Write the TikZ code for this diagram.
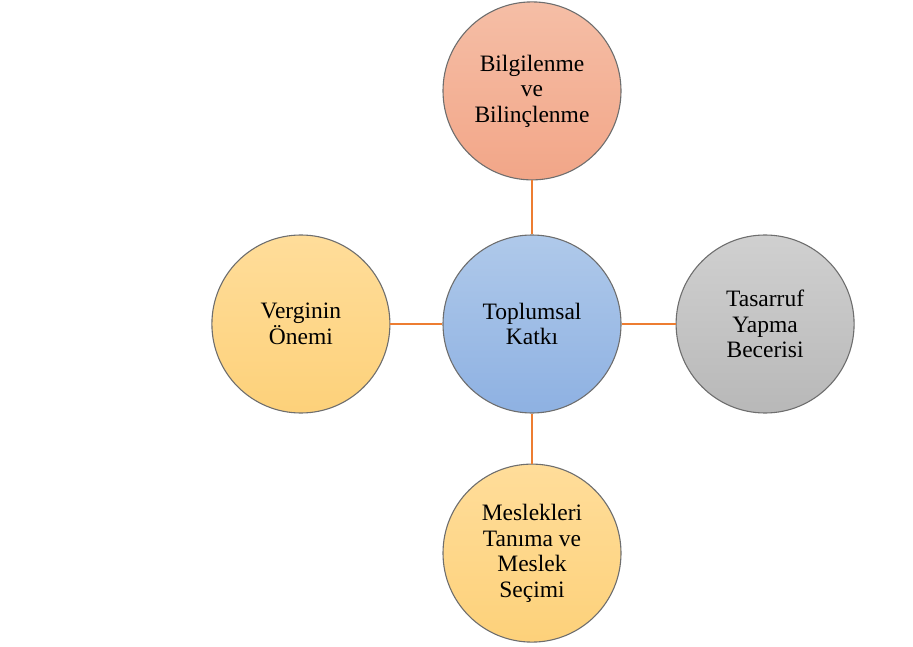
\documentclass[tikz,border=0pt]{standalone}
\usepackage{fontspec}
\setmainfont{Liberation Serif}
\usepackage{xcolor}
\usepackage{tikz}
\usetikzlibrary{positioning}
\definecolor{rim}{HTML}{6E6E6E}
\definecolor{link}{HTML}{ED7D31}
\definecolor{salmontop}{HTML}{F5BEA6}
\definecolor{salmonbot}{HTML}{F2A688}
\definecolor{bluetop}{HTML}{AFC9EA}
\definecolor{bluebot}{HTML}{8EB1E2}
\definecolor{goldtop}{HTML}{FFDD9A}
\definecolor{goldbot}{HTML}{FDD17A}
\definecolor{greytop}{HTML}{D0D0D0}
\definecolor{greybot}{HTML}{B8B8B8}

\begin{document}
\begin{tikzpicture}[
  c/.style={circle,draw=rim,line width=1.1pt,minimum size=178pt,inner sep=0pt,
            align=center,font=\fontsize{23.5}{25.5}\selectfont},
  l/.style={draw=link,line width=2.4pt}
]
  \useasboundingbox (0,0) rectangle (913pt,-647pt);
  \node[c,top color=bluetop,bottom color=bluebot] (katki) at (532pt,-324pt) {Toplumsal\\Katkı};
  \node[c,top color=salmontop,bottom color=salmonbot,above=54pt of katki] (bilgi) {Bilgilenme\\ve\\Bilinçlenme};
  \node[c,top color=goldtop,bottom color=goldbot,left=52pt of katki] (vergi) {Verginin\\Önemi};
  \node[c,top color=greytop,bottom color=greybot,right=54pt of katki] (tasarruf) {Tasarruf\\Yapma\\Becerisi};
  \node[c,top color=goldtop,bottom color=goldbot,below=50pt of katki] (meslek) {Meslekleri\\Tanıma ve\\Meslek\\Seçimi};
  \draw[l] (bilgi)--(katki);
  \draw[l] (vergi)--(katki);
  \draw[l] (katki)--(tasarruf);
  \draw[l] (katki)--(meslek);
\end{tikzpicture}
\end{document}
